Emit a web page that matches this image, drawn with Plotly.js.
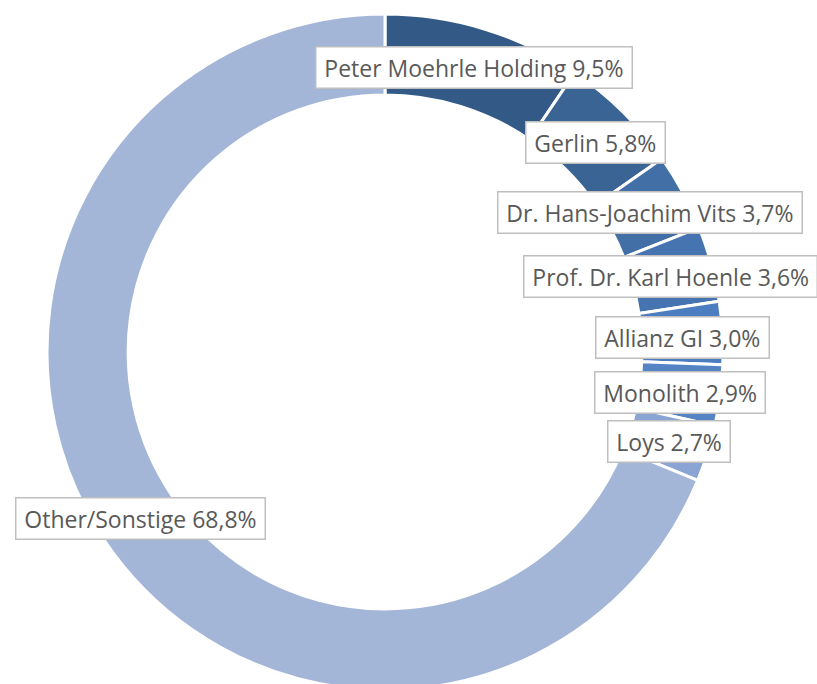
<!DOCTYPE html>
<html>
<head>
<meta charset="utf-8">
<script src="https://cdn.plot.ly/plotly-3.0.1.min.js"></script>
<style>
html, body { margin:0; padding:0; overflow:hidden; background:#fff; }
#chart { width:817px; height:694px; }
</style>
</head>
<body>
<div id="chart"></div>
<script>
// Data
const shareholders = ["Peter Moehrle Holding", "Gerlin", "Dr. Hans-Joachim Vits", "Prof. Dr. Karl Hoenle", "Allianz GI", "Monolith", "Loys", "Other/Sonstige"];
const shares = [9.5, 5.8, 3.7, 3.6, 3.0, 2.9, 2.7, 68.8];
const sliceColors = ["#335A86", "#3A6494", "#416FA6", "#4674B0", "#4C7DC0", "#5584C4", "#8AA5D3", "#A3B6D7"];
// label box centres in page pixels (layout only)
const labelPosPx = [[474, 68], [595, 142], [650, 213], [670, 276], [682, 337], [680, 392], [669, 442], [140, 518]];

const W = 817, H = 694;
const fmt = v => v.toFixed(1).replace('.', ',') + '%';
const pad = '\u2009';

const trace = {
  type: 'pie',
  labels: shareholders,
  values: shares,
  sort: false,
  direction: 'clockwise',
  rotation: 0,
  hole: 0.76,
  textinfo: 'none',
  hoverinfo: 'label+percent',
  marker: { colors: sliceColors, line: { color: '#ffffff', width: 3 } },
  domain: { x: [47 / W, 723 / W], y: [1 - 690 / H, 1 - 14 / H] },
  showlegend: false
};

const annotations = shareholders.map((name, i) => ({
  xref: 'paper', yref: 'paper',
  x: labelPosPx[i][0] / W, y: 1 - labelPosPx[i][1] / H,
  xanchor: 'center', yanchor: 'middle',
  text: pad + name + ' ' + fmt(shares[i]) + pad,
  showarrow: false,
  font: { family: 'Open Sans, sans-serif', size: 23, color: '#595959' },
  bgcolor: '#ffffff',
  bordercolor: '#BFBFBF',
  borderwidth: 1.5,
  borderpad: 4
}));

const layout = {
  width: W, height: H,
  margin: { l: 0, r: 0, t: 0, b: 0 },
  paper_bgcolor: '#ffffff',
  annotations: annotations,
  showlegend: false
};

Plotly.newPlot('chart', [trace], layout, { displayModeBar: false, staticPlot: true });
</script>
</body>
</html>
